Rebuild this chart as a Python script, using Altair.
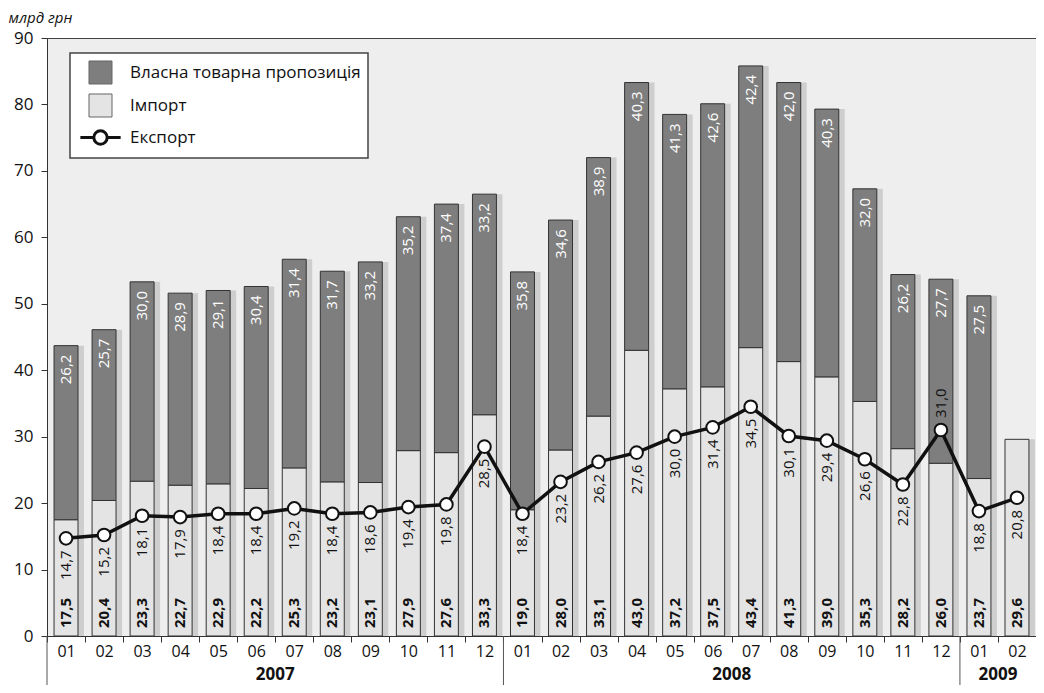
import altair as alt
import pandas as pd

# ---------------- data ----------------
months = [
    "2007-01", "2007-02", "2007-03", "2007-04", "2007-05", "2007-06",
    "2007-07", "2007-08", "2007-09", "2007-10", "2007-11", "2007-12",
    "2008-01", "2008-02", "2008-03", "2008-04", "2008-05", "2008-06",
    "2008-07", "2008-08", "2008-09", "2008-10", "2008-11", "2008-12",
    "2009-01", "2009-02",
]
imports = [17.5, 20.4, 23.3, 22.7, 22.9, 22.2, 25.3, 23.2, 23.1, 27.9, 27.6, 33.3,
           19.0, 28.0, 33.1, 43.0, 37.2, 37.5, 43.4, 41.3, 39.0, 35.3, 28.2, 26.0,
           23.7, 29.6]
own_supply = [26.2, 25.7, 30.0, 28.9, 29.1, 30.4, 31.4, 31.7, 33.2, 35.2, 37.4, 33.2,
              35.8, 34.6, 38.9, 40.3, 41.3, 42.6, 42.4, 42.0, 40.3, 32.0, 26.2, 27.7,
              27.5, None]
exports = [14.7, 15.2, 18.1, 17.9, 18.4, 18.4, 19.2, 18.4, 18.6, 19.4, 19.8, 28.5,
           18.4, 23.2, 26.2, 27.6, 30.0, 31.4, 34.5, 30.1, 29.4, 26.6, 22.8, 31.0,
           18.8, 20.8]
export_label_side = ["below"] * 23 + ["above"] + ["below"] * 2

years = ["2007", "2008", "2009"]
year_centers = ["2007-07", "2008-07", "2009-02"]   # band whose left edge is the year's middle
year_starts = ["2007-01", "2008-01", "2009-01"]

series_names = ["Власна товарна пропозиція", "Імпорт", "Експорт"]
series_colors = ["#7e7e7e", "#e4e4e4", "#ffffff"]


def fmt(v):
    return "" if v is None or pd.isna(v) else f"{v:.1f}".replace(".", ",")


wide = pd.DataFrame({"month": months, "imp": imports, "own": own_supply,
                     "exp": exports, "side": export_label_side})
wide["total"] = wide["imp"] + wide["own"].fillna(0)
wide["imp_lbl"] = [fmt(v) for v in imports]
wide["own_lbl"] = [fmt(v) for v in own_supply]
wide["exp_lbl"] = [fmt(v) for v in exports]

rows = []
for m, i, o in zip(months, imports, own_supply):
    rows.append({"month": m, "series": series_names[1], "value": i, "ord": 0})
    if o is not None:
        rows.append({"month": m, "series": series_names[0], "value": o, "ord": 1})
long = pd.DataFrame(rows)

years_df = pd.DataFrame({"year": years, "center": year_centers})
seps_df = pd.DataFrame({"start": year_starts})

# ---------------- layout ----------------
W, H = 989, 598

x_scale = alt.Scale(domain=months, paddingInner=0, paddingOuter=0)
x_axis = alt.Axis(title=None, labelExpr="substring(datum.label, 5, 7)", labelAngle=0,
                  tickBand="extent", tickSize=6, labelPadding=1, labelFontSize=16,
                  domainColor="#333", tickColor="#333", labelColor="#111", grid=False)
y_scale = alt.Scale(domain=[0, 90], nice=False)
y_axis = alt.Axis(title="млрд грн", titleAngle=0, titleAlign="left", titleBaseline="middle",
                  titleX=-39, titleY=-21, titleFontStyle="italic", titleFontWeight="normal",
                  titleFontSize=15, titleColor="#111",
                  values=list(range(0, 91, 10)), tickSize=6, labelPadding=8,
                  labelFontSize=17, labelColor="#111", domainColor="#333",
                  tickColor="#333", grid=False)


def X(field="month:N", **kw):
    return alt.X(field, scale=x_scale, sort=months, axis=x_axis, **kw)


def Y(field, **kw):
    return alt.Y(field, scale=y_scale, axis=y_axis, **kw)


is_exp = "datum.value === 'Експорт'"
legend = alt.Legend(
    title=None, orient="none", legendX=23, legendY=15,
    fillColor="white", strokeColor="#444", padding=7,
    rowPadding=4, labelFontSize=17, labelColor="#111", labelOffset=17, labelLimit=400,
    symbolOffset=11, symbolSize=530,
    symbolType={"expr": f"({is_exp} ? 'M-1.75,0H-0.58A0.58,0.58 0 1,1 0.58,0A0.58,0.58 0 1,1 -0.58,0M0.58,0H1.75' : 'square')"},
    symbolStrokeWidth={"expr": f"({is_exp} ? 3 : 1)"},
    symbolStrokeColor={"expr": f"({is_exp} ? '#111' : '#666')"},
)

shadow = alt.Chart(wide).mark_bar(width=alt.RelativeBandSize(0.63), fill="#b4b4b4",
                                  opacity=0.55, xOffset=6).encode(
    x=X(), y=Y("total:Q"))

bars = alt.Chart(long).mark_bar(width=alt.RelativeBandSize(0.63), stroke="#333",
                                strokeWidth=1).encode(
    x=X(),
    y=Y("value:Q", stack="zero"),
    fill=alt.Fill("series:N", scale=alt.Scale(domain=series_names, range=series_colors),
                  legend=legend),
    order=alt.Order("ord:Q", sort="ascending"),
)

line = alt.Chart(wide).mark_line(color="#111", strokeWidth=3.5).encode(x=X(), y=Y("exp:Q"))
points = alt.Chart(wide).mark_circle(color="white", stroke="#111", strokeWidth=2,
                                     size=160, opacity=1).encode(x=X(), y=Y("exp:Q"))

imp_text = alt.Chart(wide).mark_text(angle=270, align="left", baseline="middle", dx=8,
                                     fontWeight="bold", fontSize=15, color="#111").encode(
    x=X(), y=alt.Y(datum=0, scale=y_scale, axis=y_axis), text="imp_lbl:N")

own_text = alt.Chart(wide).transform_filter("datum.own != null").mark_text(
    angle=270, align="right", baseline="middle", dx=-9, fontSize=15, color="white").encode(
    x=X(), y=Y("total:Q"), text="own_lbl:N")

exp_below = alt.Chart(wide).transform_filter("datum.side == 'below'").mark_text(
    angle=270, align="right", baseline="middle", dx=-12, fontSize=15, color="#111").encode(
    x=X(), y=Y("exp:Q"), text="exp_lbl:N")
exp_above = alt.Chart(wide).transform_filter("datum.side == 'above'").mark_text(
    angle=270, align="left", baseline="middle", dx=12, fontSize=15, color="#111").encode(
    x=X(), y=Y("exp:Q"), text="exp_lbl:N")

seps = alt.Chart(seps_df).mark_rule(color="#555", strokeWidth=1).encode(
    x=X("start:N", bandPosition=0), y=alt.value(H), y2=alt.value(H + 55))

year_text = alt.Chart(years_df).mark_text(fontWeight="bold", fontSize=17, baseline="middle",
                                          color="#111").encode(
    x=X("center:N", bandPosition=0), y=alt.value(H + 39), text="year:N")

chart = alt.layer(shadow, bars, line, points, imp_text, own_text, exp_below, exp_above,
                  seps, year_text).properties(
    width=W, height=H,
    autosize=alt.AutoSizeParams(type="none"),
    padding={"left": 39, "top": 30, "right": 0, "bottom": 49},
).configure(font="Open Sans").configure_view(
    fill="#eeeeee", stroke="#444", strokeWidth=1
).configure_legend(strokeWidth=1.5)

chart.save("out.html", embed_options={"renderer": "svg", "actions": False})
